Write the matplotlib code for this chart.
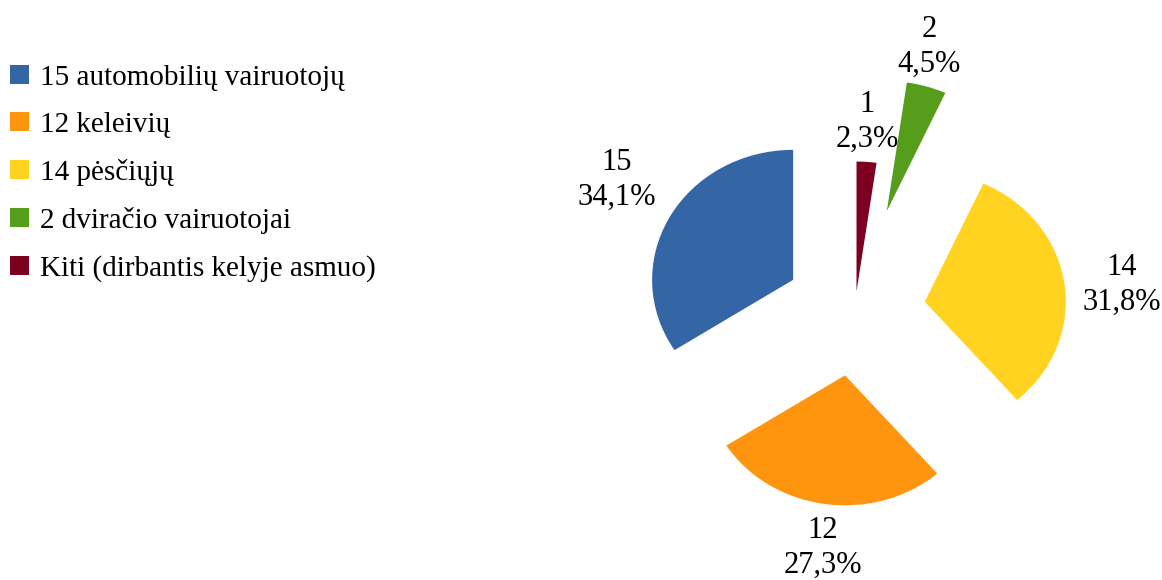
import matplotlib
matplotlib.use('Agg')
import matplotlib.pyplot as plt
from matplotlib.patches import Patch

# data
categories = ['15 automobilių vairuotojų', '12 keleivių', '14 pėsčiųjų',
              '2 dviračio vairuotojai', 'Kiti (dirbantis kelyje asmuo)']
counts = [15, 12, 14, 2, 1]
percent_labels = ['34,1%', '27,3%', '31,8%', '4,5%', '2,3%']
colors = ['#3465A4', '#FF950E', '#FFD320', '#579D1C', '#7E0021']

# layout (pixels); the pie is a bit wider than tall in the original
W, H = 1162, 580
cx, cy = 855, 311
rx, ry = 141, 130
explode = [0.5, 0.5, 0.5, 0.8, 0.15]
label_pos = [(617, 180), (823, 548), (1122, 285), (929, 47), (867, 122)]

plt.rcParams['font.family'] = ['Liberation Serif', 'DejaVu Serif']

fig = plt.figure(figsize=(W / 100, H / 100), dpi=100)
ax = fig.add_axes([0, 0, 1, 1])
ax.pie(counts, colors=colors, explode=explode, radius=1,
       startangle=90, counterclock=True, wedgeprops=dict(linewidth=0))
# unit circle -> rx by ry pixels, centred on (cx, cy) from top-left
ax.set_aspect('auto')
ax.set_xlim(-cx / rx, (W - cx) / rx)
ax.set_ylim(-(H - cy) / ry, cy / ry)
ax.axis('off')

for n, p, (x, y) in zip(counts, percent_labels, label_pos):
    ax.text((x - cx) / rx, (cy - y) / ry, f'{n}\n{p}', ha='center',
            va='center', fontsize=22, linespacing=1.28)

handles = [Patch(facecolor=c, edgecolor='none') for c in colors]
fig.legend(handles, categories, loc='upper left',
           bbox_to_anchor=(10 / W, 1 - 65 / H),
           frameon=False, fontsize=21, handlelength=0.65, handleheight=0.65,
           handletextpad=0.38, labelspacing=0.72, borderpad=0,
           borderaxespad=0)

fig.savefig('out.png', dpi=100)
